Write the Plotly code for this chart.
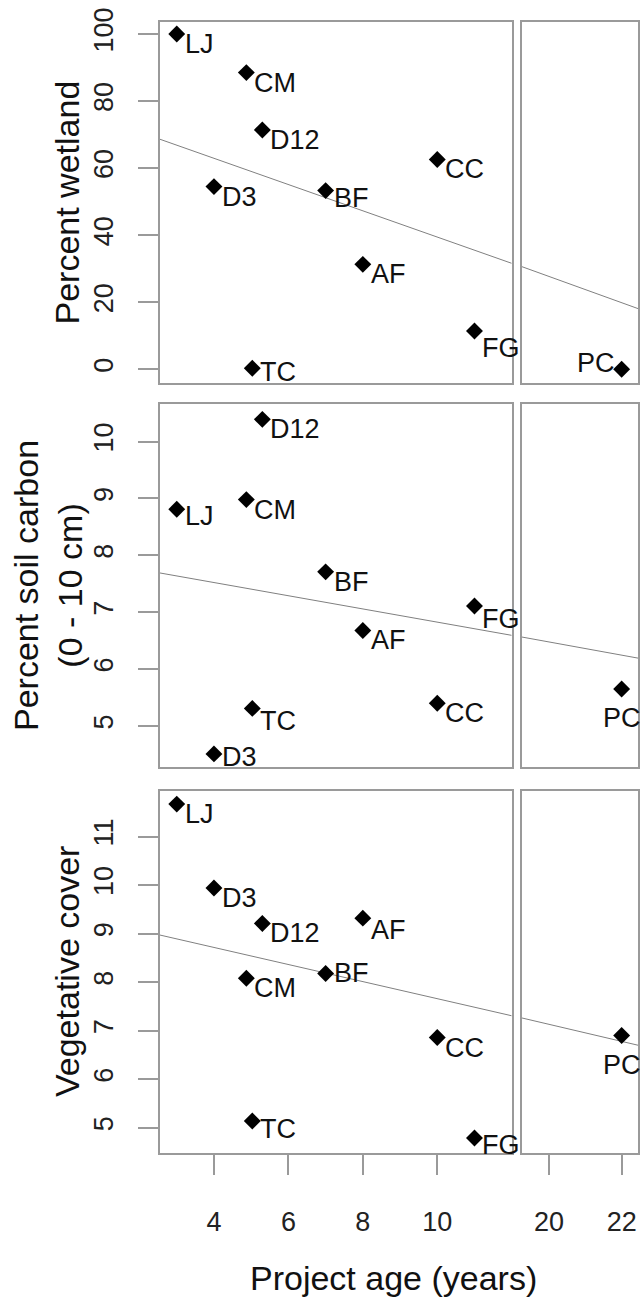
import plotly.graph_objects as go

# ---- data ----
sites = ["LJ", "D3", "CM", "TC", "D12", "BF", "AF", "CC", "FG", "PC"]
age = [3, 4, 4.87, 5.03, 5.3, 7, 8, 10, 11, 22]

wetland = [100, 54.5, 88.5, 0.3, 71.4, 53.3, 31.3, 62.6, 11.4, 0]
soil_carbon = [8.81, 4.51, 8.98, 5.31, 10.39, 7.71, 6.68, 5.40, 7.11, 5.65]
veg_cover = [11.67, 9.94, 8.08, 5.14, 9.21, 8.18, 9.32, 6.86, 4.79, 6.90]

panel_values = [wetland, soil_carbon, veg_cover]
panel_titles = ["Percent wetland", "Percent soil carbon<br>(0 - 10 cm)", "Vegetative cover"]
y_ticks = [[0, 20, 40, 60, 80, 100], [5, 6, 7, 8, 9, 10], [5, 6, 7, 8, 9, 10, 11]]
y_ranges = [[-4.1, 103.6], [4.28, 10.66], [4.48, 11.94]]

# fitted trend line on the gap-compressed age axis: y = a + b * x
trend_intercept = [78.6, 7.986, 9.42]
trend_slope = [-3.916, -0.116, -0.176]
axis_gap = 7.0  # years removed by the axis break

left_ticks = [4, 6, 8, 10]
right_ticks = [20, 22]
left_range = [2.55, 12.0]
right_range = [19.25, 22.45]
x_title = "Project age (years)"

# ---- label placement (style: anchor, x shift px, y shift px) ----
BR = ("left", 6, -10)
label_style = [
    {"TC": ("left", 6, -4), "FG": ("left", 6, -17), "BF": ("left", 6, -7),
     "PC": ("right", -5, 6)},
    {"D3": ("left", 6, -3), "LJ": ("left", 6, -7), "TC": ("left", 6, -13),
     "FG": ("left", 6, -13), "PC": ("center", 0, -29)},
    {"BF": ("left", 6, 0), "FG": ("left", 6, -7), "AF": ("left", 6, -12),
     "TC": ("left", 6, -8), "PC": ("center", 0, -29)},
]

# ---- layout geometry ----
W, H = 640, 1297
FONT = "Liberation Sans, Arial, Helvetica, sans-serif"
GRAY = "#9a9a9a"
x_dom_left = [160 / W, 511.7 / W]
x_dom_right = [521.7 / W, 638 / W]
panel_px = [(22, 383), (404, 767), (791, 1153)]

fig = go.Figure()
layout = dict(
    width=W, height=H, margin=dict(l=0, r=0, t=0, b=0, autoexpand=False),
    paper_bgcolor="white", plot_bgcolor="white", showlegend=False,
    font=dict(family=FONT, color="#111"),
)
annotations = []

for i in range(3):
    top, bot = panel_px[i]
    ydom = [1 - bot / H, 1 - top / H]
    li, ri = 2 * i + 1, 2 * i + 2
    xl, xr = f"x{li}", f"x{ri}"
    yl, yr = f"y{li}", f"y{ri}"
    last = i == 2

    common_x = dict(
        showgrid=False, zeroline=False, automargin=False,
        showline=True, mirror=True, linecolor=GRAY, linewidth=1.5,
        ticks="outside" if last else "", ticklen=20, tickcolor=GRAY, tickwidth=1.5,
        showticklabels=last, tickfont=dict(size=27, color="#222", family=FONT),
        ticklabelstandoff=24, tickmode="array",
    )
    layout[f"xaxis{li}"] = dict(domain=x_dom_left, anchor=yl, range=left_range,
                                tickvals=left_ticks if last else [], **common_x)
    layout[f"xaxis{ri}"] = dict(domain=x_dom_right, anchor=yr, range=right_range,
                                tickvals=right_ticks if last else [], **common_x)
    layout[f"yaxis{li}"] = dict(
        domain=ydom, anchor=xl, range=y_ranges[i], showgrid=False, zeroline=False,
        automargin=False, showline=True, mirror=True, linecolor=GRAY, linewidth=1.5,
        tickmode="array", tickvals=y_ticks[i], ticks="outside", ticklen=20,
        tickcolor=GRAY, tickwidth=1.5, tickangle=-90,
        tickfont=dict(size=27, color="#222", family=FONT), ticklabelstandoff=14,
    )
    layout[f"yaxis{ri}"] = dict(
        domain=ydom, anchor=xr, range=y_ranges[i], showgrid=False, zeroline=False,
        automargin=False, showline=True, mirror=True, linecolor=GRAY, linewidth=1.5,
        showticklabels=False, ticks="",
    )

    vals = panel_values[i]
    left_idx = [k for k, a in enumerate(age) if a <= left_range[1]]
    right_idx = [k for k, a in enumerate(age) if a >= right_range[0]]

    # trend line segments (continuous on the compressed axis)
    ys_l = [trend_intercept[i] + trend_slope[i] * x for x in left_range]
    ys_r = [trend_intercept[i] + trend_slope[i] * (x - axis_gap) for x in right_range]
    fig.add_trace(go.Scatter(x=left_range, y=ys_l, mode="lines", xaxis=xl, yaxis=yl,
                             line=dict(color="#808080", width=1), hoverinfo="skip"))
    fig.add_trace(go.Scatter(x=right_range, y=ys_r, mode="lines", xaxis=xr, yaxis=yr,
                             line=dict(color="#808080", width=1), hoverinfo="skip"))

    for idx, (xa, ya) in ((left_idx, (xl, yl)), (right_idx, (xr, yr))):
        fig.add_trace(go.Scatter(
            x=[age[k] for k in idx], y=[vals[k] for k in idx],
            mode="markers", xaxis=xa, yaxis=ya, cliponaxis=False,
            marker=dict(symbol="diamond", size=13, color="black"),
            text=[sites[k] for k in idx], hoverinfo="text",
        ))
        for k in idx:
            anchor, dx, dy = label_style[i].get(sites[k], BR)
            annotations.append(dict(
                text=sites[k], x=age[k], y=vals[k], xref=xa, yref=ya,
                xanchor=anchor, yanchor="middle", xshift=dx, yshift=dy,
                showarrow=False, font=dict(size=27, color="#111", family=FONT),
            ))

    annotations.append(dict(
        text=panel_titles[i], xref="paper", yref="paper",
        x=(67 if i != 1 else 47.5) / W, y=1 - (top + bot) / 2 / H,
        xanchor="center", yanchor="middle", textangle=-90, showarrow=False,
        font=dict(size=34, color="#111", family=FONT),
    ))

annotations.append(dict(
    text=x_title, xref="paper", yref="paper", x=393.5 / W, y=1 - 1278 / H,
    xanchor="center", yanchor="middle", showarrow=False,
    font=dict(size=34, color="#111", family=FONT),
))
layout["annotations"] = annotations
fig.update_layout(**layout)
fig.write_html("out.html", config={"displayModeBar": False},
               post_script="document.body.style.margin='0';"
               "document.body.style.overflow='hidden';")
